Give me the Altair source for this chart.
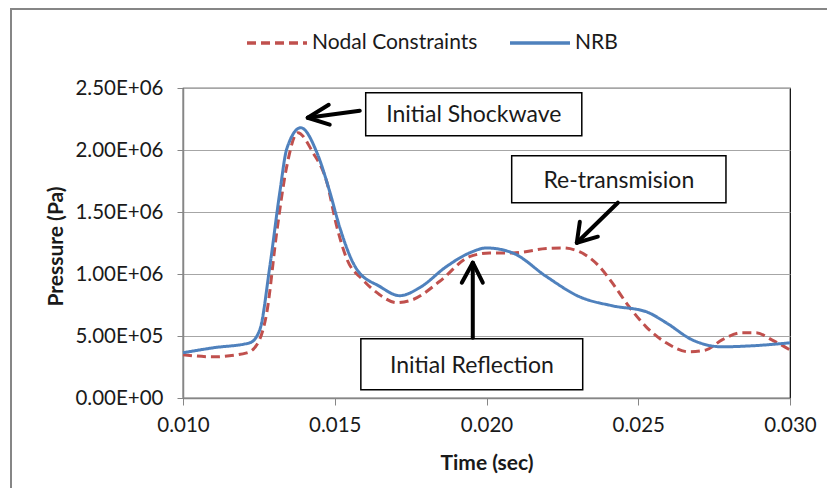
import altair as alt
import pandas as pd

# ---- data ----
series_names = ["Nodal Constraints", "NRB"]
series_colors = ["#C0504D", "#4F81BD"]

nodal_time = [0.0100, 0.0110, 0.0121, 0.01247, 0.01276, 0.01309, 0.01342, 0.01378,
              0.01428, 0.01474, 0.01507, 0.0154, 0.01592, 0.01648, 0.01704, 0.01757,
              0.01845, 0.01944, 0.0201, 0.02086, 0.02197, 0.0225, 0.02306, 0.02372,
              0.02414, 0.0247, 0.02526, 0.02592, 0.02668, 0.02724, 0.02776, 0.02842,
              0.02888, 0.0294, 0.0300]
nodal_pressure = [348e3, 332e3, 364e3, 445e3, 688e3, 1.34e6, 1.87e6, 2.14e6,
                  1.98e6, 1.74e6, 1.38e6, 1.12e6, 955e3, 833e3, 769e3, 793e3,
                  939e3, 1.14e6, 1.17e6, 1.17e6, 1.205e6, 1.21e6, 1.18e6, 1.06e6,
                  930e3, 736e3, 574e3, 445e3, 372e3, 388e3, 469e3, 526e3,
                  526e3, 469e3, 388e3]

nrb_time = [0.0100, 0.0110, 0.0122, 0.01253, 0.01286, 0.01319, 0.01342, 0.01388,
            0.01441, 0.01484, 0.01516, 0.01572, 0.01648, 0.01714, 0.0178, 0.01868,
            0.01944, 0.0200, 0.02086, 0.02197, 0.02306, 0.02414, 0.02526, 0.02592,
            0.02678, 0.02776, 0.02875, 0.0300]
nrb_pressure = [365e3, 405e3, 445e3, 550e3, 1.06e6, 1.66e6, 2.01e6, 2.18e6,
                1.98e6, 1.66e6, 1.38e6, 1.04e6, 900e3, 825e3, 890e3, 1.06e6,
                1.17e6, 1.21e6, 1.17e6, 980e3, 817e3, 744e3, 696e3, 607e3,
                469e3, 413e3, 421e3, 445e3]

x_ticks = [0.010, 0.015, 0.020, 0.025, 0.030]
y_ticks = [0, 5e5, 1e6, 1.5e6, 2e6, 2.5e6]

# annotation boxes (data coordinates)
box_labels = ["Initial Shockwave", "Re-transmision", "Initial Reflection"]
box_t1 = [0.01602, 0.02083, 0.01586]
box_t2 = [0.02314, 0.02789, 0.02317]
box_p1 = [2.462e6, 1.954e6, 0.478e6]
box_p2 = [2.115e6, 1.575e6, 0.067e6]
label_t = [0.01958, 0.02436, 0.01952]
label_p = [2.285e6, 1.752e6, 0.262e6]

# arrow segments: shaft + two head strokes per arrow
arrow_t1 = [0.015824, 0.01411, 0.01411, 0.019548, 0.019548, 0.019548, 0.024328, 0.022976, 0.022976]
arrow_p1 = [2.317e6, 2.260e6, 2.260e6, 0.486e6, 1.091e6, 1.091e6, 1.575e6, 1.252e6, 1.252e6]
arrow_t2 = [0.01411, 0.014802, 0.014835, 0.019548, 0.019186, 0.019878, 0.022976, 0.023075, 0.023668]
arrow_p2 = [2.260e6, 2.365e6, 2.204e6, 1.091e6, 0.930e6, 0.930e6, 1.252e6, 1.422e6, 1.301e6]

# ---- tables ----
lines_df = pd.concat([
    pd.DataFrame({"t": nodal_time, "p": nodal_pressure, "series": series_names[0], "o": range(len(nodal_time))}),
    pd.DataFrame({"t": nrb_time, "p": nrb_pressure, "series": series_names[1], "o": range(len(nrb_time))}),
], ignore_index=True)
boxes_df = pd.DataFrame({"t": box_t1, "t2": box_t2, "p": box_p1, "p2": box_p2})
labels_df = pd.DataFrame({"t": label_t, "p": label_p, "label": box_labels})
arrows_df = pd.DataFrame({"t": arrow_t1, "p": arrow_p1, "t2": arrow_t2, "p2": arrow_p2})
frame_df = pd.DataFrame({"k": [0]})

FONT = "Lato"
GRAY = "#868686"
TXT = "#1a1a1a"

xs = alt.Scale(domain=[0.010, 0.030], nice=False, zero=False)
ys = alt.Scale(domain=[0, 2.5e6], nice=False)

sci = ("datum.value == 0 ? '0.00E+00' : "
       "format(datum.value / pow(10, floor(log(datum.value) / LN10 + 1e-9)), '.2f') + 'E+' + "
       "(floor(log(datum.value) / LN10 + 1e-9) < 10 ? '0' : '') + floor(log(datum.value) / LN10 + 1e-9)")

xaxis = alt.Axis(values=x_ticks, format=".3f", grid=False, labelFlush=False, labelOverlap=False,
                 labelFont=FONT, labelFontSize=20.5, labelColor=TXT, labelPadding=10,
                 tickSize=7, tickColor=GRAY, domainColor=GRAY, domainWidth=1.5,
                 title="Time (sec)", titleFont=FONT, titleFontSize=21, titleFontWeight="bold",
                 titleColor=TXT, titleY=65, titleBaseline="middle")
yaxis = alt.Axis(values=y_ticks, labelExpr=sci, grid=True, gridColor="#A6A6A6", gridWidth=1,
                 labelFont=FONT, labelFontSize=20.5, labelColor=TXT, labelPadding=14,
                 tickSize=6, tickColor=GRAY, domainColor=GRAY, domainWidth=1.5,
                 title="Pressure (Pa)", titleFont=FONT, titleFontSize=21, titleFontWeight="bold",
                 titleColor=TXT, titleAngle=270, titleX=-127, titleY=158,
                 titleAlign="center", titleBaseline="middle")

X = alt.X("t:Q", scale=xs, axis=xaxis)
Y = alt.Y("p:Q", scale=ys, axis=yaxis)

leg = alt.Legend(title=None, orient="none", direction="horizontal", legendX=62, legendY=-77,
                 symbolType="stroke", symbolSize=3600, symbolStrokeWidth=3.5,
                 labelFont=FONT, labelFontSize=21, labelColor=TXT, labelOffset=3,
                 labelLimit=400, columnPadding=25)

lines = alt.Chart(lines_df).mark_line(strokeWidth=3, interpolate="monotone").encode(
    x=X, y=Y,
    color=alt.Color("series:N", scale=alt.Scale(domain=series_names, range=series_colors), legend=leg),
    strokeDash=alt.StrokeDash("series:N", scale=alt.Scale(domain=series_names, range=[[9, 5], [1, 0]]), legend=leg),
    order="o:Q",
)

boxes = alt.Chart(boxes_df).mark_rect(fill="white", stroke="black", strokeWidth=1.5).encode(
    x=X, x2="t2:Q", y=Y, y2="p2:Q"
)
texts = alt.Chart(labels_df).mark_text(font=FONT, fontSize=23, color=TXT, align="center",
                                       baseline="middle").encode(x=X, y=Y, text="label:N")
arrows = alt.Chart(arrows_df).mark_rule(color="black", strokeWidth=4, strokeCap="round").encode(
    x=X, x2="t2:Q", y=Y, y2="p2:Q"
)
frame = alt.Chart(frame_df).mark_rect(filled=False, stroke=GRAY, strokeWidth=2, clip=False).encode(
    x=alt.value(-172), x2=alt.value(720), y=alt.value(-79), y2=alt.value(560)
)

chart = alt.layer(frame, lines, boxes, texts, arrows).properties(
    width=607, height=310,
    padding={"left": 175, "top": 80, "right": 37, "bottom": 90},
    autosize=alt.AutoSizeParams(type="none"),
    background="white",
).configure_view(stroke="black", strokeWidth=1.2)

chart.save("out.html", embed_options={"renderer": "svg", "actions": False})
